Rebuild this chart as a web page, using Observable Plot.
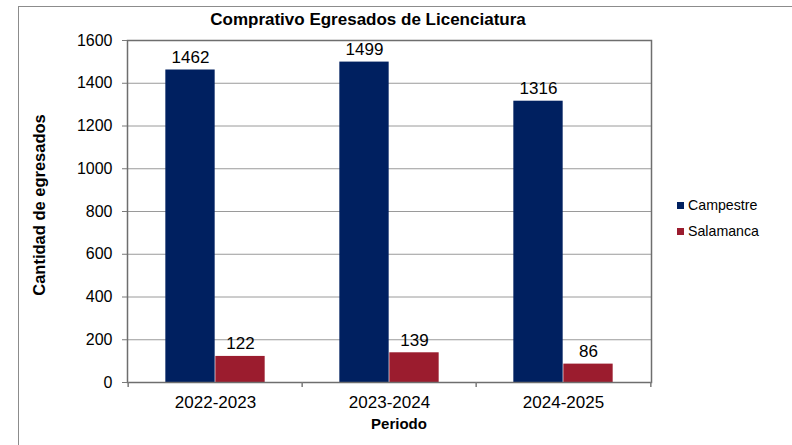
<!DOCTYPE html>
<html><head><meta charset="utf-8">
<script src="https://cdn.jsdelivr.net/npm/d3@7"></script>
<script src="https://cdn.jsdelivr.net/npm/@observablehq/plot@0.6"></script>
<style>
body{margin:0;background:#fff;font-family:"Liberation Sans",Arial,sans-serif;color:#000}
#wrap{position:relative;width:792px;height:445px;overflow:hidden;background:#fff}
#wrap svg{position:absolute;left:0;top:0}
.border{position:absolute;left:18px;top:6px;width:800px;height:460px;border-left:1px solid #8c8c8c;border-top:1px solid #8c8c8c;box-sizing:border-box}
.title{position:absolute;left:168px;width:400px;top:10px;text-align:center;font-weight:bold;font-size:17px;line-height:20px}
.ylab{position:absolute;left:39px;top:205px;transform:translate(-50%,-50%) rotate(-90deg);white-space:nowrap;font-weight:bold;font-size:16.5px}
.xlab{position:absolute;left:399px;top:423px;transform:translate(-50%,-50%);font-weight:bold;font-size:15px}
.legend{position:absolute;left:677px;top:192px;font-size:14.2px}
.legend div{display:flex;align-items:center;height:26px;line-height:16px}
.legend span.sw{display:inline-block;width:7px;height:7px;margin-right:4px}
</style></head>
<body><div id="wrap"><div class="border"></div></div>
<script>
const periods = ["2022-2023", "2023-2024", "2024-2025"];
const seriesNames = ["Campestre", "Salamanca"];
const campestre = [1462, 1499, 1316];
const salamanca = [122, 139, 86];
const yTicks = [0, 200, 400, 600, 800, 1000, 1200, 1400, 1600];
const colors = ["#002060", "#9B1C2E"];
const titleText = "Comprativo Egresados de Licenciatura";
const yTitle = "Cantidad de egresados";
const xTitle = "Periodo";

const camp = periods.map((p, i) => ({periodo: p, valor: campestre[i]}));
const sala = periods.map((p, i) => ({periodo: p, valor: salamanca[i]}));

const W = 792, H = 445, mL = 127, mR = 141, mT = 40, mB = 63;
const band = (W - mL - mR) / periods.length;
const half = band / 2, barW = 50;

const chart = Plot.plot({
  width: W, height: H,
  marginLeft: mL, marginRight: mR, marginTop: mT, marginBottom: mB,
  style: {fontFamily: "'Liberation Sans', Arial, sans-serif", fontSize: "16px", color: "#000", background: "transparent"},
  x: {domain: periods, padding: 0, label: null},
  y: {domain: [0, 1600], label: null},
  marks: [
    Plot.gridY(yTicks, {stroke: "#9a9a9a", strokeOpacity: 1}),
    Plot.barY(camp, {x: "periodo", y: "valor", fill: colors[0], insetLeft: half - barW, insetRight: half}),
    Plot.barY(sala, {x: "periodo", y: "valor", fill: colors[1], insetLeft: half, insetRight: half - barW}),
    Plot.text(camp, {x: "periodo", y: "valor", text: d => String(d.valor), dx: -barW / 2, dy: -7, lineAnchor: "bottom", fontSize: 17, fill: "#000"}),
    Plot.text(sala, {x: "periodo", y: "valor", text: d => String(d.valor), dx: barW / 2, dy: -7, lineAnchor: "bottom", fontSize: 17, fill: "#000"}),
    Plot.frame({stroke: "#6e6e6e", strokeWidth: 1.5}),
    Plot.axisY({ticks: yTicks, tickFormat: d => String(d), tickSize: 5, tickPadding: 10, label: null, fontSize: 16, stroke: "#7a7a7a"}),
    Plot.axisX({tickSize: 0, tickPadding: 13, label: null, fontSize: 17}),
    Plot.ruleX(periods, {x: d => d, y1: 0, y2: 0, dx: -half, insetBottom: -5, stroke: "#7a7a7a", strokeWidth: 1.5}),
    Plot.ruleX(periods.slice(-1), {x: d => d, y1: 0, y2: 0, dx: half, insetBottom: -5, stroke: "#7a7a7a", strokeWidth: 1.5})
  ]
});
const wrap = document.getElementById("wrap");
wrap.appendChild(chart);

function addDiv(cls, txt) { const d = document.createElement("div"); d.className = cls; d.textContent = txt; wrap.appendChild(d); return d; }
addDiv("title", titleText);
addDiv("ylab", yTitle);
addDiv("xlab", xTitle);
const leg = document.createElement("div"); leg.className = "legend";
seriesNames.forEach((s, i) => {
  const row = document.createElement("div");
  const sw = document.createElement("span"); sw.className = "sw"; sw.style.background = colors[i];
  const t = document.createElement("span"); t.textContent = s;
  row.appendChild(sw); row.appendChild(t); leg.appendChild(row);
});
wrap.appendChild(leg);
</script>
</body></html>
